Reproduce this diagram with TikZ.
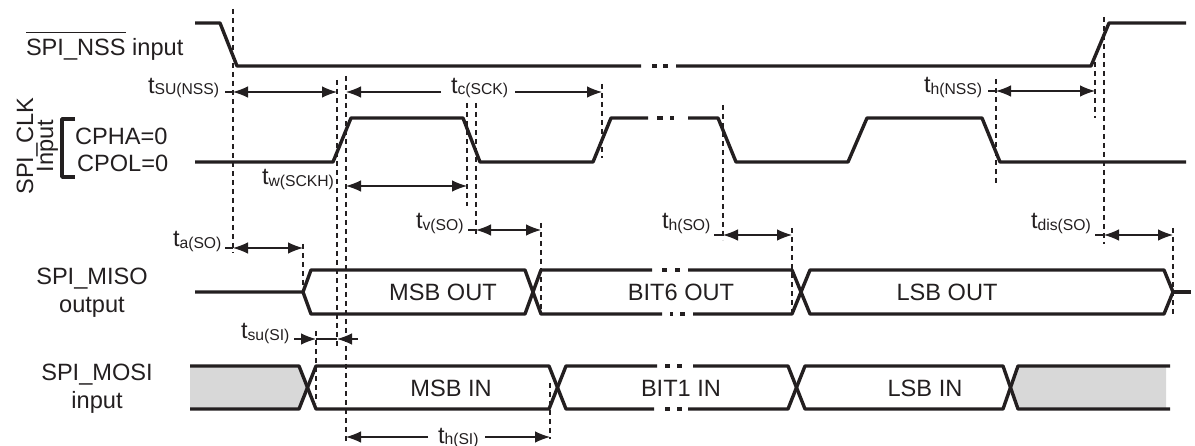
\documentclass[tikz,border=0pt]{standalone}
\usepackage{fontspec}
\setmainfont{Liberation Sans}
\usetikzlibrary{arrows.meta}
\definecolor{ink}{HTML}{231F20}
\definecolor{greyfill}{HTML}{D8D8D8}
\newcommand{\bigf}{\fontsize{23.6}{27}\selectfont}
\newcommand{\subf}{\fontsize{15.7}{18}\selectfont}
\newcommand{\tlabel}[1]{\bigf t\raisebox{-1.5pt}{\subf #1}}
\tikzset{
  x=1pt,y=-1pt,
  wave/.style={draw=ink,line width=3.4pt,line join=round},
  guide/.style={draw=ink,line width=1.25pt,dash pattern=on 5.5pt off 3.5pt},
  span/.style={draw=ink,line width=1.1pt,{Latex[length=15pt,width=11.5pt]}-{Latex[length=15pt,width=11.5pt]}},
  tail/.style={draw=ink,line width=1.1pt},
  headr/.style={draw=ink,line width=1.1pt,-{Latex[length=15pt,width=11.5pt]}},
  lab/.style={inner sep=0pt,outer sep=0pt,anchor=base west,text=ink,font=\bigf},
  mid/.style={inner sep=0pt,outer sep=0pt,anchor=base,text=ink,font=\bigf},
  rot/.style={inner sep=0pt,outer sep=0pt,anchor=base,text=ink,font=\bigf,rotate=90},
}
\begin{document}
\begin{tikzpicture}
\useasboundingbox (0,0) rectangle (1195,446);
% grey fills
\fill[greyfill] (190,366) -- (299,366) -- (307.5,387.5) -- (299,409) -- (190,409) -- cycle;
\fill[greyfill] (1166,366) -- (1018,366) -- (1010.5,387.5) -- (1018,409) -- (1166,409) -- cycle;
% NSS
\draw[wave] (195,23) -- (220,23) -- (237,66) -- (641,66);
\draw[wave] (652,66) -- (657,66) (663,66) -- (668,66);
\draw[wave] (676,66) -- (1091,66) -- (1109,23) -- (1186,23);
% CLK
\draw[wave] (195,162) -- (333,162) -- (351,118) -- (463,118) -- (480,162) -- (593,162) -- (611,118) -- (648,118);
\draw[wave] (657,118) -- (663,118) (670,118) -- (674,118);
\draw[wave] (688,118) -- (718,118) -- (736,162) -- (848,162) -- (867,118) -- (982,118) -- (1000,162) -- (1186,162);
% MISO
\draw[wave] (195,292) -- (303,292) -- (311,270) -- (525,270) -- (541,314) -- (662,314);
\draw[wave] (303,292) -- (311,314) -- (525,314) -- (541,270) -- (652,270);
\draw[wave] (662,270) -- (667,270) (675,270) -- (680,270);
\draw[wave] (670,314) -- (673,314) (680,314) -- (685,314);
\draw[wave] (688,270) -- (792,270) -- (810,314) -- (1164,314) -- (1173,292) -- (1164,270) -- (810,270) -- (792,314) -- (693,314);
\draw[wave] (1173,292) -- (1191,292);
% MOSI
\draw[wave] (190,366) -- (299,366) -- (316,409) -- (549,409) -- (566,366) -- (657,366);
\draw[wave] (190,409) -- (299,409) -- (316,366) -- (549,366) -- (566,409) -- (654,409);
\draw[wave] (665,366) -- (670,366) (677,366) -- (682,366);
\draw[wave] (665,409) -- (670,409) (677,409) -- (682,409);
\draw[wave] (693,366) -- (788,366) -- (805,409) -- (1003,409) -- (1018,366) -- (1170,366);
\draw[wave] (688,409) -- (788,409) -- (805,366) -- (1003,366) -- (1018,409) -- (1170,409);
% bracket
\draw[wave] (75,119) -- (62,119) -- (62,177) -- (75,177);
% guide end points
\coordinate (g1a) at (233,9);    \coordinate (g1b) at (233,253);
\coordinate (g2a) at (337,80);   \coordinate (g2b) at (337,349);
\coordinate (g3a) at (346,76);   \coordinate (g3b) at (346,444);
\coordinate (g4a) at (467,103);  \coordinate (g4b) at (467,206);
\coordinate (g5a) at (476,103);  \coordinate (g5b) at (476,236);
\coordinate (g6a) at (602,84);   \coordinate (g6b) at (602,158);
\coordinate (g7a) at (723,105);  \coordinate (g7b) at (723,240);
\coordinate (g8a) at (996,79);   \coordinate (g8b) at (996,184);
\coordinate (g9a) at (1095,62);  \coordinate (g9b) at (1095,118);
\coordinate (g10a) at (1104,17); \coordinate (g10b) at (1104,244);
\coordinate (g11a) at (303,244); \coordinate (g11b) at (303,296);
\coordinate (g12a) at (541,223); \coordinate (g12b) at (541,313);
\coordinate (g13a) at (792,228); \coordinate (g13b) at (792,313);
\coordinate (g14a) at (1173,228);\coordinate (g14b) at (1173,314);
\coordinate (g15a) at (316,331); \coordinate (g15b) at (316,403);
\coordinate (g16a) at (550,383); \coordinate (g16b) at (550,439);
\foreach \g in {1,...,16} \draw[guide] (g\g a) -- (g\g b);
% labels
\node[lab] (nss) at (26,56) {\rlap{\raisebox{22.5pt}{\rule{100pt}{1pt}}}SPI\_NSS input};
\node[rot] (clk) at (33,146) {SPI\_CLK};
\node[rot] (inp) at (53,146) {Input};
\node[lab] (cpha) at (75,144.7) {CPHA=0};
\node[lab] (cpol) at (77,172) {CPOL=0};
\node[mid] (miso) at (92,285) {SPI\_MISO};
\node[mid] (misoo) at (92,313) {output};
\node[mid] (mosi) at (97,381) {SPI\_MOSI};
\node[mid] (mosii) at (97,409) {input};
\node[mid] (d1) at (443,301) {MSB OUT};
\node[mid] (d2) at (681,301) {BIT6 OUT};
\node[mid] (d3) at (947,301) {LSB OUT};
\node[mid] (d4) at (451,397) {MSB IN};
\node[mid] (d5) at (681,397) {BIT1 IN};
\node[mid] (d6) at (925,397) {LSB IN};
\node[lab] (tsu) at (148,93.5) {\tlabel{SU(NSS)}};
\node[lab] (tc) at (451,93.5) {\tlabel{c(SCK)}};
\node[lab] (tw) at (262,185) {\tlabel{w(SCKH)}};
\node[lab] (tv) at (416,229) {\tlabel{v(SO)}};
\node[lab] (thso) at (662,229) {\tlabel{h(SO)}};
\node[lab] (tdis) at (1031,229) {\tlabel{dis(SO)}};
\node[lab] (thn) at (924,93) {\tlabel{h(NSS)}};
\node[lab] (ta) at (173,247) {\tlabel{a(SO)}};
\node[lab] (tsi) at (241,339) {\tlabel{su(SI)}};
\node[lab] (thsi) at (438,443) {\tlabel{h(SI)}};
% timing arrows
\coordinate (a1s) at (225,92);  \coordinate (a1l) at (233,92);  \coordinate (a1r) at (337,92);
\draw[tail] (a1s) -- (a1l); \draw[span] (a1l) -- (a1r);
\coordinate (a2l) at (346,92); \coordinate (a2m) at (441,92); \coordinate (a2n) at (515,92); \coordinate (a2r) at (602,92);
\draw[headr] (a2m) -- (a2l); \draw[headr] (a2n) -- (a2r);
\coordinate (a3l) at (346,186); \coordinate (a3r) at (467,186);
\draw[span] (a3l) -- (a3r);
\coordinate (a4s) at (468,230); \coordinate (a4l) at (476,230); \coordinate (a4r) at (541,230);
\draw[tail] (a4s) -- (a4l); \draw[span] (a4l) -- (a4r);
\coordinate (a5s) at (714,235); \coordinate (a5l) at (723,235); \coordinate (a5r) at (792,235);
\draw[tail] (a5s) -- (a5l); \draw[span] (a5l) -- (a5r);
\coordinate (a6s) at (1095,235); \coordinate (a6l) at (1104,235); \coordinate (a6r) at (1173,235);
\draw[tail] (a6s) -- (a6l); \draw[span] (a6l) -- (a6r);
\coordinate (a7s) at (988,91); \coordinate (a7l) at (996,91); \coordinate (a7r) at (1095,91);
\draw[tail] (a7s) -- (a7l); \draw[span] (a7l) -- (a7r);
\coordinate (a8s) at (225,248); \coordinate (a8l) at (233,248); \coordinate (a8r) at (303,248);
\draw[tail] (a8s) -- (a8l); \draw[span] (a8l) -- (a8r);
\coordinate (a9s) at (294,339); \coordinate (a9m) at (316,339); \coordinate (a9r) at (337,339); \coordinate (a9e) at (358,339);
\draw[headr] (a9s) -- (a9m); \draw[tail] (a9m) -- (a9r); \draw[headr] (a9e) -- (a9r);
\coordinate (a10l) at (346,437); \coordinate (a10m) at (428,437); \coordinate (a10n) at (485,437); \coordinate (a10r) at (550,437);
\draw[headr] (a10m) -- (a10l); \draw[headr] (a10n) -- (a10r);
\end{tikzpicture}
\end{document}
